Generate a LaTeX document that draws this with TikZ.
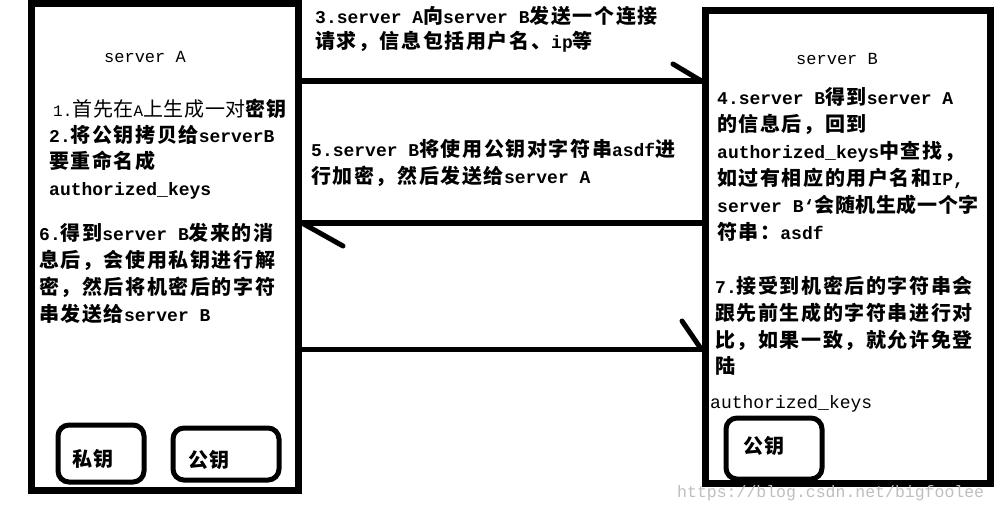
\documentclass[tikz,border=0pt]{standalone}
\usepackage{fontspec}
\setmainfont{Liberation Mono}
\newfontfamily\cjk[LetterSpace=8]{Noto Sans CJK SC}
\newfontfamily\cjknarrow[LetterSpace=3]{Noto Sans CJK SC}
\newcommand\z[1]{{\cjk\fontsize{20pt}{27pt}\selectfont #1}}
\newcommand\zn[1]{{\cjknarrow\fontsize{20pt}{27pt}\selectfont #1}}
\begin{document}
\begin{tikzpicture}[x=1pt,y=-1pt,
  server/.style={draw=black,line width=7pt,inner sep=0pt},
  keybox/.style={draw=black,line width=5pt,rounded corners=11pt,inner sep=0pt},
  conn/.style={draw=black,line width=5.5pt},
  barb/.style={draw=black,line width=5pt,line cap=round},
  txt/.style={anchor=base west,inner sep=0pt,font=\fontsize{18pt}{27pt}\selectfont\bfseries},
  txtr/.style={anchor=base west,inner sep=0pt,font=\fontsize{18pt}{27pt}\selectfont},
  title/.style={anchor=base,inner sep=0pt,font=\fontsize{17pt}{27pt}\selectfont}]
\path[use as bounding box,fill=white] (0,0) rectangle (998,512);

% server boxes
\node[server,minimum width=267pt,minimum height=487pt] (A) at (165,246.5) {};
\node[server,minimum width=285pt,minimum height=473.5pt] (B) at (847.5,246.75) {};

% key boxes
\node[keybox,minimum width=86pt,minimum height=57pt] (Apriv) at (101,453.5) {};
\node[keybox,minimum width=106pt,minimum height=52pt] (Apub) at (226,454) {};
\node[keybox,minimum width=96pt,minimum height=61pt] (Bpub) at (774,448.5) {};

% connectors
\draw[conn] (A.east |- 0,81) -- (B.west |- 0,81);
\coordinate (b3) at (673,64);
\draw[barb] (b3) -- (B.west |- 0,81);
\draw[conn] (A.east |- 0,223) -- (B.west |- 0,223);
\coordinate (b5) at (343,246);
\draw[barb] (A.east |- 0,223) -- (b5);
\draw[conn] (A.east |- 0,349.5) -- (B.west |- 0,349.5);
\coordinate (b7) at (682,321);
\draw[barb] (b7) -- (B.west |- 0,349.5);

% server A texts
\node[title] (tA) at (145,62) {server A};
\node[anchor=base west,inner sep=0pt,font=\fontsize{16pt}{27pt}\selectfont] (a1) at (53,116) {1.\zn{首先在}A\zn{上生成一对}{\bfseries\zn{密钥}}};
\node[txt] (a2) at (49,142) {2.\z{将公钥拷贝给}serverB};
\node[txt] (a3) at (49,168) {\z{要重命名成}};
\node[txt] (a4) at (49,195) {authorized\_keys};
\node[txt] (a6) at (39,240) {6.\z{得到}server B\z{发来的消}};
\node[txt] (a7) at (39,267) {\z{息后，会使用私钥进行解}};
\node[txt] (a8) at (39,294) {\z{密，然后将机密后的字符}};
\node[txt] (a9) at (39,321) {\z{串发送给}server B};
\node[txt] (lpriv) at (72,466) {\z{私钥}};
\node[txt] (lpubA) at (188,467) {\z{公钥}};

% middle texts
\node[txt] (m1) at (315,23) {3.server A\z{向}server B\z{发送一个连接}};
\node[txt] (m2) at (315,48) {\z{请求，信息包括用户名、}ip\z{等}};
\node[txt] (m3) at (311,156) {5.server B\z{将使用公钥对字符串}asdf\z{进}};
\node[txt] (m4) at (311,183) {\z{行加密，然后发送给}server A};

% server B texts
\node[title] (tB) at (837,64) {server B};
\node[txt] (b1) at (717,104) {4.server B\z{得到}server A};
\node[txt] (b2) at (717,131) {\z{的信息后，回到}};
\node[txt] (b3t) at (717,158) {authorized\_keys\z{中查找，}};
\node[txt] (b4) at (717,185) {\z{如过有相应的用户名和}IP,};
\node[txt] (b5t) at (717,212) {server B`\zn{会随机生成一个字}};
\node[txt] (b6) at (717,239) {\z{符串：}asdf};
\node[txt] (b7t) at (715,293) {7.\z{接受到机密后的字符串会}};
\node[txt] (b8) at (715,320) {\z{跟先前生成的字符串进行对}};
\node[txt] (b9) at (715,347) {\z{比，如果一致，就允许免登}};
\node[txt] (b10) at (715,373) {\z{陆}};
\node[txtr] (bk) at (710,408) {authorized\_keys};
\node[txt] (lpubB) at (743,453) {\z{公钥}};

% watermark
\node[anchor=base west,inner sep=0pt,text=black!25,font=\fontsize{16.5pt}{20pt}\selectfont] (wm) at (677,497) {https://blog.csdn.net/bigfoolee};
\end{tikzpicture}
\end{document}
